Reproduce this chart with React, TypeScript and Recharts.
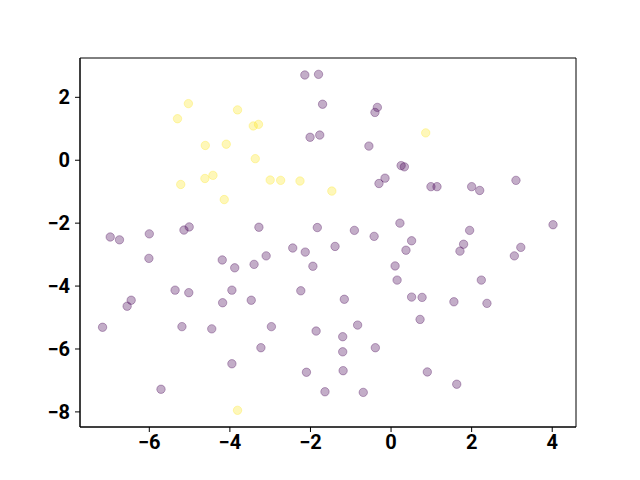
import React from "react";
import { ScatterChart, Scatter, XAxis, YAxis, ReferenceArea } from "recharts";

const purpleX = [
  -2.14, -1.8, -1.7, -2.01, -1.77, -6.97, -6.74, -6.0, -5.14, -5.01, -3.28, -1.83,
  -0.34, -0.4, -0.55, 0.25, 0.33, -0.15, -0.3, 0.99, 1.14, 2.0, 2.2, 3.1, -0.91,
  -0.42, 0.22, 0.51, 1.95, 4.02, 1.8, -1.39, -6.01, -4.19, -3.88, -3.4, -3.1,
  -2.44, -2.13, -1.94, -5.36, -5.02, -3.95, -4.18, -3.47, -2.24, -6.45, -6.55,
  -7.16, -5.19, -4.45, -2.97, -1.86, -3.23, -3.95, -2.1, -5.71, -1.64, 0.37, 1.71,
  3.22, 3.06, 0.1, 0.15, 2.24, -1.16, 0.51, 0.77, 1.56, 2.38, 0.72, -0.83, -1.2,
  -1.2, -0.39, -1.19, 0.9, 1.63, -0.69,
];
const purpleY = [
  2.71, 2.73, 1.78, 0.73, 0.8, -2.44, -2.53, -2.34, -2.22, -2.12, -2.13, -2.14,
  1.68, 1.52, 0.45, -0.17, -0.21, -0.57, -0.74, -0.84, -0.84, -0.84, -0.96, -0.64,
  -2.23, -2.42, -2.0, -2.56, -2.23, -2.05, -2.67, -2.74, -3.12, -3.17, -3.42,
  -3.31, -3.04, -2.79, -2.92, -3.37, -4.13, -4.21, -4.13, -4.53, -4.45, -4.15,
  -4.45, -4.64, -5.31, -5.29, -5.36, -5.29, -5.43, -5.96, -6.47, -6.74, -7.28,
  -7.36, -2.86, -2.89, -2.77, -3.04, -3.36, -3.81, -3.81, -4.42, -4.35, -4.36,
  -4.5, -4.55, -5.06, -5.24, -5.61, -6.09, -5.96, -6.69, -6.73, -7.12, -7.38,
];
const yellowX = [
  -5.03, -5.3, -3.81, -3.42, -3.29, -4.61, -4.09, -3.37, -4.62, -4.42, -5.22, -3.0,
  -2.74, -2.26, -4.14, -1.47, 0.86, -3.81,
];
const yellowY = [
  1.8, 1.32, 1.6, 1.09, 1.14, 0.47, 0.51, 0.05, -0.58, -0.48, -0.77, -0.63, -0.64,
  -0.66, -1.25, -0.98, 0.87, -7.95,
];
const xTicks = [-6, -4, -2, 0, 2, 4];
const yTicks = [-8, -6, -4, -2, 0, 2];

const purpleData = purpleX.map((x, i) => ({ x, y: purpleY[i] }));
const yellowData = yellowX.map((x, i) => ({ x, y: yellowY[i] }));

const fmt = (v: number) => (v < 0 ? "\u2212" + Math.abs(v) : String(v));

const makeShape = (color: string) => (props: any) => (
  <circle
    cx={props.cx}
    cy={props.cy}
    r={4.2}
    fill={color}
    fillOpacity={0.32}
    stroke={color}
    strokeOpacity={0.32}
    strokeWidth={1}
  />
);

const tickStyle = {
  fontFamily: "Roboto, sans-serif",
  fontWeight: "bold",
  fontSize: 20,
  fill: "#000",
};

export default function App() {
  return (
    <div style={{ position: "absolute", left: 0, top: 0, background: "#fff" }}>
      <ScatterChart
        width={640}
        height={480}
        margin={{ top: 58, right: 64, bottom: 0, left: 0 }}
      >
        <XAxis
          type="number"
          dataKey="x"
          domain={[-7.72, 4.59]}
          ticks={xTicks}
          tickFormatter={fmt}
          allowDataOverflow
          height={53}
          tickSize={5}
          tickMargin={3}
          stroke="#000"
          tick={tickStyle}
        />
        <YAxis
          type="number"
          dataKey="y"
          domain={[-8.48, 3.25]}
          ticks={yTicks}
          tickFormatter={fmt}
          allowDataOverflow
          width={80}
          tickSize={5}
          tickMargin={5}
          stroke="#000"
          tick={tickStyle}
        />
        <ReferenceArea
          x1={-7.72}
          x2={4.59}
          y1={-8.48}
          y2={3.25}
          fill="none"
          fillOpacity={0}
          stroke="#000"
          strokeWidth={1}
          ifOverflow="visible"
        />
        <Scatter
          data={purpleData}
          isAnimationActive={false}
          shape={makeShape("#440154")}
        />
        <Scatter
          data={yellowData}
          isAnimationActive={false}
          shape={makeShape("#fde725")}
        />
      </ScatterChart>
    </div>
  );
}
